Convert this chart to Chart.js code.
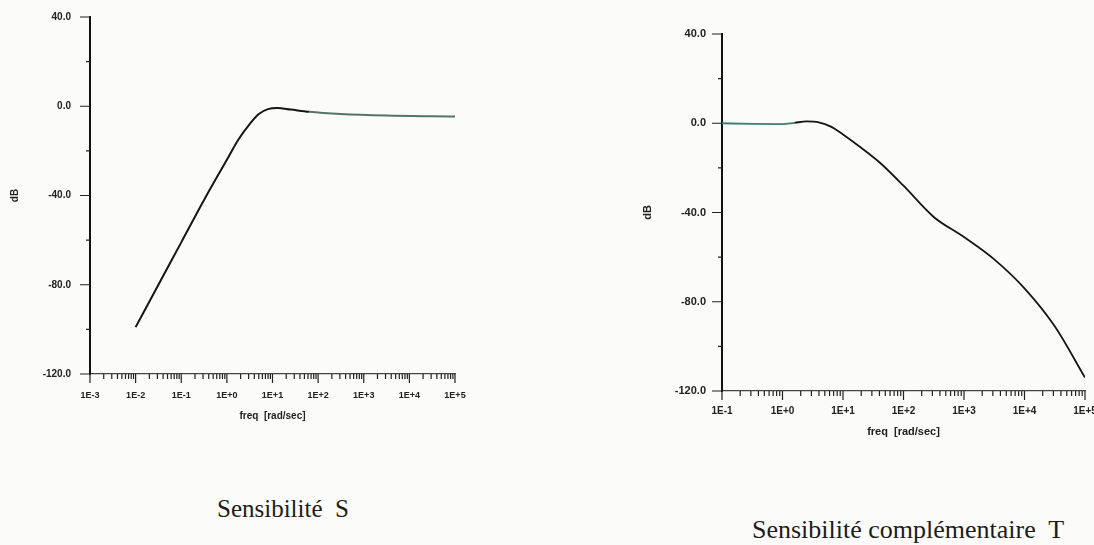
<!DOCTYPE html>
<html>
<head>
<meta charset="utf-8">
<script src="https://cdn.jsdelivr.net/npm/chart.js@4.4.1/dist/chart.umd.min.js"></script>
<style>
  body { margin: 0; background: #fff; }
  #page { position: relative; width: 1094px; height: 545px; background: #fbfbfa; overflow: hidden; }
  .box { position: absolute; }
  .cap { position: absolute; font-family: "Liberation Serif", "DejaVu Serif", serif; font-size: 25px; line-height: 25px; color: #1c1c1c; white-space: pre; }
</style>
</head>
<body>
<div id="page">
  <div class="box" style="left:0;top:0;width:480px;height:445px"><canvas id="chartS"></canvas></div>
  <div class="box" style="left:640px;top:0;width:454px;height:455px"><canvas id="chartT"></canvas></div>
  <div class="cap" style="left:217px;top:496px">Sensibilité  S</div>
  <div class="cap" style="left:752px;top:517px;font-size:26px">Sensibilité complémentaire  T</div>
</div>
<script>
// frequencies in rad/sec, gains in dB
const sFreq = [0.01, 0.0316, 0.1, 0.316, 1, 1.78, 3.16, 5.01, 7.94, 12.6, 25.1, 63.1, 316, 3162, 31623, 117000];
const sGain = [-99, -80, -61, -42, -24, -15, -8, -3.5, -1.3, -0.8, -1.5, -2.5, -3.5, -4.2, -4.5, -4.6];

const tFreq = [0.1, 0.316, 1, 1.58, 2.51, 3.98, 6.31, 10, 20, 40, 100, 316, 1000, 3162, 10000, 31623, 100000];
const tGain = [0, -0.3, -0.4, 0.2, 0.8, 0.4, -1.5, -5, -11, -17.5, -28, -42, -51, -61, -74, -91, -114];

const yTicks = [-120, -100, -80, -60, -40, -20, 0, 20, 40];
const xLabel = 'freq  [rad/sec]';
const yLabel = 'dB';

function decadeTicks(lo, hi) {
  const out = [];
  for (let e = lo; e <= hi; e++) {
    for (let m = 1; m <= 9; m++) {
      if (e === hi && m > 1) break;
      out.push({ value: m * Math.pow(10, e) });
    }
  }
  return out;
}

function isDecade(v) {
  const l = Math.log10(v);
  return Math.abs(l - Math.round(l)) < 1e-6;
}

function fmtDecade(v) {
  const e = Math.round(Math.log10(v));
  return e >= 0 ? '1E+' + e : '1E' + e;
}

// little tick marks like the plotter drew them
const tickMarks = {
  id: 'tickMarks',
  afterDraw(chart) {
    const ctx = chart.ctx;
    const x = chart.scales.x, y = chart.scales.y;
    ctx.save();
    ctx.strokeStyle = '#222';
    ctx.lineWidth = 1.2;
    ctx.beginPath();
    x.ticks.forEach(t => {
      const px = x.getPixelForValue(t.value);
      const len = isDecade(t.value) ? 9 : 5;
      ctx.moveTo(px, x.top);
      ctx.lineTo(px, x.top + len);
    });
    y.ticks.forEach(t => {
      const py = y.getPixelForValue(t.value);
      const len = t.value % 40 === 0 ? 10 : 4;
      ctx.moveTo(y.right - len, py);
      ctx.lineTo(y.right, py);
    });
    ctx.stroke();
    ctx.restore();
  }
};

function makeChart(id, freq, gain, opt) {
  const pts = freq.map((f, i) => ({ x: f, y: gain[i] }));
  return new Chart(document.getElementById(id), {
    type: 'line',
    data: {
      datasets: [{
        data: pts,
        borderColor: '#151515',
        borderWidth: opt.lw,
        pointRadius: 0,
        cubicInterpolationMode: 'monotone',
        segment: { borderColor: opt.segColor }
      }]
    },
    options: {
      responsive: true,
      maintainAspectRatio: false,
      animation: false,
      layout: { padding: { top: opt.top, right: opt.right, left: 0, bottom: 0 } },
      plugins: { legend: { display: false }, tooltip: { enabled: false } },
      scales: {
        x: {
          type: 'logarithmic',
          min: Math.pow(10, opt.lo),
          max: Math.pow(10, opt.hi),
          afterBuildTicks: s => { s.ticks = decadeTicks(opt.lo, opt.hi); },
          afterFit: s => { s.height = opt.xH; s.paddingLeft = 0; s.paddingRight = 0; },
          grid: { drawOnChartArea: false, drawTicks: false },
          border: { display: true, color: '#444', width: 1.2 },
          ticks: {
            autoSkip: false, maxRotation: 0, padding: opt.xPad,
            color: '#222', font: { family: 'Liberation Sans', size: opt.xFs, weight: 'bold' },
            callback: v => isDecade(v) ? fmtDecade(v) : ''
          },
          title: {
            display: true, text: xLabel, color: '#222',
            font: { family: 'Liberation Sans', size: opt.tFs, weight: 'bold' },
            padding: { top: 0, bottom: opt.tPad }
          }
        },
        y: {
          min: -120, max: 40,
          afterBuildTicks: s => { s.ticks = yTicks.map(v => ({ value: v })); },
          afterFit: s => { s.width = opt.yW; s.paddingTop = 0; s.paddingBottom = 0; },
          grid: { drawOnChartArea: false, drawTicks: false },
          border: { display: true, color: '#111', width: 2 },
          ticks: {
            padding: opt.yPad, color: '#222',
            font: { family: 'Liberation Sans', size: opt.yFs, weight: 'bold' },
            callback: v => v % 40 === 0 ? v.toFixed(1) : ''
          },
          title: {
            display: true, text: yLabel, color: '#222',
            font: { family: 'Liberation Sans', size: opt.tFs, weight: 'bold' },
            padding: { top: opt.dbPad, bottom: 0 }
          }
        }
      }
    },
    plugins: [tickMarks]
  });
}

makeChart('chartS', sFreq, sGain, {
  lo: -3, hi: 5, top: 17, right: 25, xH: 71, yW: 90,
  xPad: 16, xFs: 9, yPad: 19, yFs: 10, tFs: 10, tPad: 23, dbPad: 9, lw: 2,
  segColor: c => c.p0.parsed.x >= 40 ? '#55736a' : undefined
});

makeChart('chartT', tFreq, tGain, {
  lo: -1, hi: 5, top: 34, right: 9, xH: 64, yW: 82,
  xPad: 14, xFs: 10, yPad: 16, yFs: 11, tFs: 11, tPad: 16, dbPad: 1, lw: 1.8,
  segColor: c => c.p1.parsed.x <= 1.6 ? '#3f7d6c' : undefined
});
</script>
</body>
</html>
